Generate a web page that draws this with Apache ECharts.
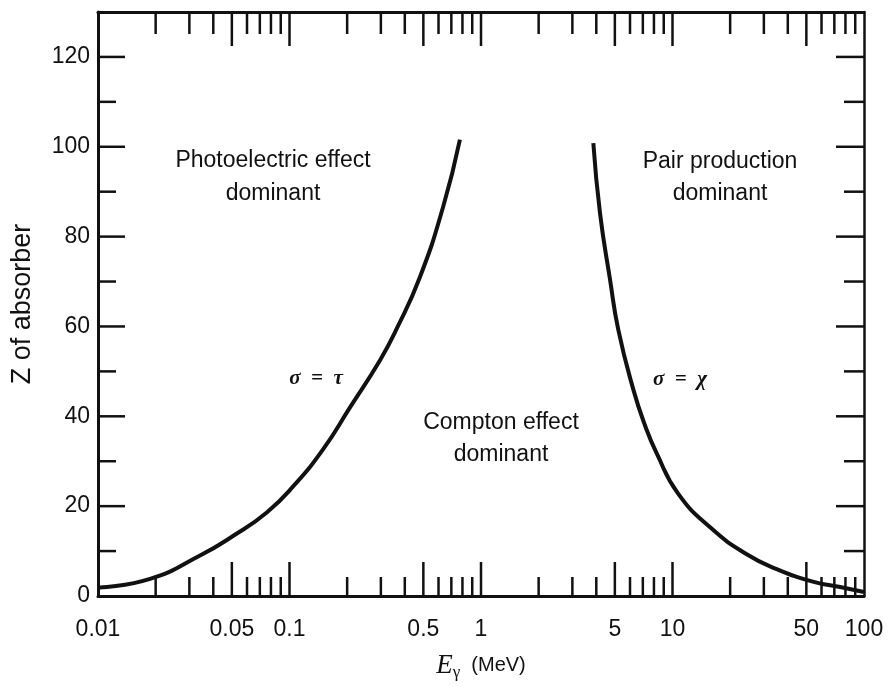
<!DOCTYPE html>
<html>
<head>
<meta charset="utf-8">
<script src="https://cdn.jsdelivr.net/npm/echarts@6/dist/echarts.min.js"></script>
<style>
  html, body { margin: 0; padding: 0; background: #fff; }
  #chart { width: 892px; height: 686px; }
</style>
</head>
<body>
<div id="chart"></div>
<script>
// photoelectric / Compton boundary (sigma = tau)
const photoE = [0.0102, 0.0187, 0.0341, 0.0509, 0.0761, 0.105, 0.150, 0.207, 0.297, 0.363, 0.48, 0.635, 0.776];
const photoZ = [1.9, 3.8, 9.0, 13.4, 18.6, 24.5, 32.7, 42.0, 52.5, 59.5, 71.0, 86.7, 101.6];
// Compton / pair production boundary (sigma = kappa)
const pairE = [3.86, 4.18, 4.72, 5.21, 6.24, 7.18, 8.26, 10.7, 16.0, 24.4, 35, 54, 75, 100];
const pairZ = [100.8, 85.3, 70.4, 59.3, 46.0, 38.0, 31.8, 22.8, 15.0, 9.3, 6.0, 3.2, 2.0, 0.9];

// axis ticks and labels
const xLabelValues = [0.01, 0.05, 0.1, 0.5, 1, 5, 10, 50, 100];
const xTickLabels = ['0.01', '0.05', '0.1', '0.5', '1', '5', '10', '50', '100'];
const xMajorTicks = [0.05, 0.1, 0.5, 1, 5, 10, 50];
const xMinorTicks = [0.02, 0.03, 0.04, 0.06, 0.07, 0.08, 0.09,
  0.2, 0.3, 0.4, 0.6, 0.7, 0.8, 0.9,
  2, 3, 4, 6, 7, 8, 9,
  20, 30, 40, 60, 70, 80, 90];
const yMajorTicks = [20, 40, 60, 80, 100, 120];
const yMinorTicks = [10, 30, 50, 70, 90, 110];

const X_MIN = 0.01, X_MAX = 100, Y_MIN = 0, Y_MAX = 130;
const INK = '#111';
const FONT = '"Liberation Sans", Arial, sans-serif';

const chart = echarts.init(document.getElementById('chart'));

function toPairs(xs, ys) {
  return xs.map((x, i) => [x, ys[i]]);
}

const xTickData = xMajorTicks.map((v) => [v, 0, 1]).concat(xMinorTicks.map((v) => [v, 0, 0]));
const yTickData = yMajorTicks.map((v) => [X_MIN, v, 1]).concat(yMinorTicks.map((v) => [X_MIN, v, 0]));

function tickLine(x1, y1, x2, y2) {
  return {
    type: 'line',
    shape: { x1: x1, y1: y1, x2: x2, y2: y2 },
    style: { stroke: INK, lineWidth: 2.5 }
  };
}

const option = {
  animation: false,
  backgroundColor: '#fff',
  grid: { left: 98, right: 28, top: 12, bottom: 89 },
  xAxis: [
    {
      type: 'log',
      logBase: 10,
      min: X_MIN,
      max: X_MAX,
      position: 'bottom',
      axisLine: { onZero: false, lineStyle: { color: INK, width: 3 } },
      axisTick: { show: false },
      axisLabel: { show: false },
      splitLine: { show: false },
      name: '{e|E}{g|γ}  (MeV)',
      nameLocation: 'middle',
      nameGap: 54,
      nameTextStyle: {
        color: INK,
        fontFamily: FONT,
        fontSize: 20,
        rich: {
          e: { fontFamily: '"Liberation Serif", serif', fontStyle: 'italic', fontSize: 27, color: INK },
          g: { fontFamily: '"Liberation Serif", serif', fontSize: 17, color: INK, padding: [14, 0, 0, 0] }
        }
      }
    },
    {
      type: 'log',
      logBase: 10,
      min: X_MIN,
      max: X_MAX,
      position: 'top',
      axisLine: { onZero: false, lineStyle: { color: INK, width: 3 } },
      axisTick: { show: false },
      axisLabel: { show: false },
      splitLine: { show: false }
    }
  ],
  yAxis: [
    {
      type: 'value',
      min: Y_MIN,
      max: Y_MAX,
      interval: 10,
      position: 'left',
      axisLine: { show: true, onZero: false, lineStyle: { color: INK, width: 3 } },
      axisTick: { show: false },
      splitLine: { show: false },
      axisLabel: {
        color: INK,
        fontFamily: FONT,
        fontSize: 23,
        margin: 8,
        formatter: (v) => (v % 20 === 0 && v <= 120 ? String(v) : '')
      },
      name: 'Z of absorber',
      nameLocation: 'middle',
      nameRotate: 90,
      nameGap: 62,
      nameTextStyle: { color: INK, fontFamily: FONT, fontSize: 27 }
    },
    {
      type: 'value',
      min: Y_MIN,
      max: Y_MAX,
      interval: 10,
      position: 'right',
      axisLine: { show: true, onZero: false, lineStyle: { color: INK, width: 2.5 } },
      axisTick: { show: false },
      axisLabel: { show: false },
      splitLine: { show: false }
    }
  ],
  series: [
    {
      name: 'sigma = tau',
      type: 'line',
      data: toPairs(photoE, photoZ),
      smooth: 0.5,
      showSymbol: false,
      lineStyle: { color: INK, width: 4 },
      z: 5
    },
    {
      name: 'sigma = kappa',
      type: 'line',
      data: toPairs(pairE, pairZ),
      smooth: 0.5,
      showSymbol: false,
      lineStyle: { color: INK, width: 4 },
      z: 5
    },
    {
      // x ticks, bottom and top edges
      type: 'custom',
      data: xTickData,
      renderItem: function (params, api) {
        const x = api.value(0);
        const major = api.value(2) === 1;
        const b = api.coord([x, Y_MIN]);
        const t = api.coord([x, Y_MAX]);
        return {
          type: 'group',
          children: [
            tickLine(b[0], b[1], b[0], b[1] - (major ? 34 : 19)),
            tickLine(t[0], t[1], t[0], t[1] + (major ? 34 : 22))
          ]
        };
      },
      z: 4
    },
    {
      // y ticks, left and right edges
      type: 'custom',
      data: yTickData,
      renderItem: function (params, api) {
        const y = api.value(1);
        const major = api.value(2) === 1;
        const l = api.coord([X_MIN, y]);
        const r = api.coord([X_MAX, y]);
        return {
          type: 'group',
          children: [
            tickLine(l[0], l[1], l[0] + (major ? 27 : 18), l[1]),
            tickLine(r[0], r[1], r[0] - (major ? 28 : 20), r[1])
          ]
        };
      },
      z: 4
    },
    {
      // x tick labels
      type: 'custom',
      data: xLabelValues.map((v) => [v, Y_MIN]),
      renderItem: function (params, api) {
        const p = api.coord([api.value(0), Y_MIN]);
        return {
          type: 'text',
          x: p[0],
          y: p[1] + 34,
          style: {
            text: xTickLabels[params.dataIndex],
            fill: INK,
            font: '23px ' + FONT,
            align: 'center',
            verticalAlign: 'middle'
          }
        };
      },
      z: 4
    }
  ],
  graphic: [
    { type: 'text', x: 273, y: 161, style: { text: 'Photoelectric effect', fill: INK, font: '23px ' + FONT, align: 'center', verticalAlign: 'middle' } },
    { type: 'text', x: 273, y: 194, style: { text: 'dominant', fill: INK, font: '23px ' + FONT, align: 'center', verticalAlign: 'middle' } },
    { type: 'text', x: 720, y: 162, style: { text: 'Pair production', fill: INK, font: '23px ' + FONT, align: 'center', verticalAlign: 'middle' } },
    { type: 'text', x: 720, y: 194, style: { text: 'dominant', fill: INK, font: '23px ' + FONT, align: 'center', verticalAlign: 'middle' } },
    { type: 'text', x: 501, y: 423, style: { text: 'Compton effect', fill: INK, font: '23px ' + FONT, align: 'center', verticalAlign: 'middle' } },
    { type: 'text', x: 501, y: 455, style: { text: 'dominant', fill: INK, font: '23px ' + FONT, align: 'center', verticalAlign: 'middle' } },
    { type: 'text', x: 316, y: 379, style: { text: 'σ  =  τ', fill: INK, font: 'italic bold 21px "Liberation Serif", serif', align: 'center', verticalAlign: 'middle' } },
    { type: 'text', x: 680, y: 380, style: { text: 'σ  =  χ', fill: INK, font: 'italic bold 21px "Liberation Serif", serif', align: 'center', verticalAlign: 'middle' } }
  ]
};

chart.setOption(option);
</script>
</body>
</html>
